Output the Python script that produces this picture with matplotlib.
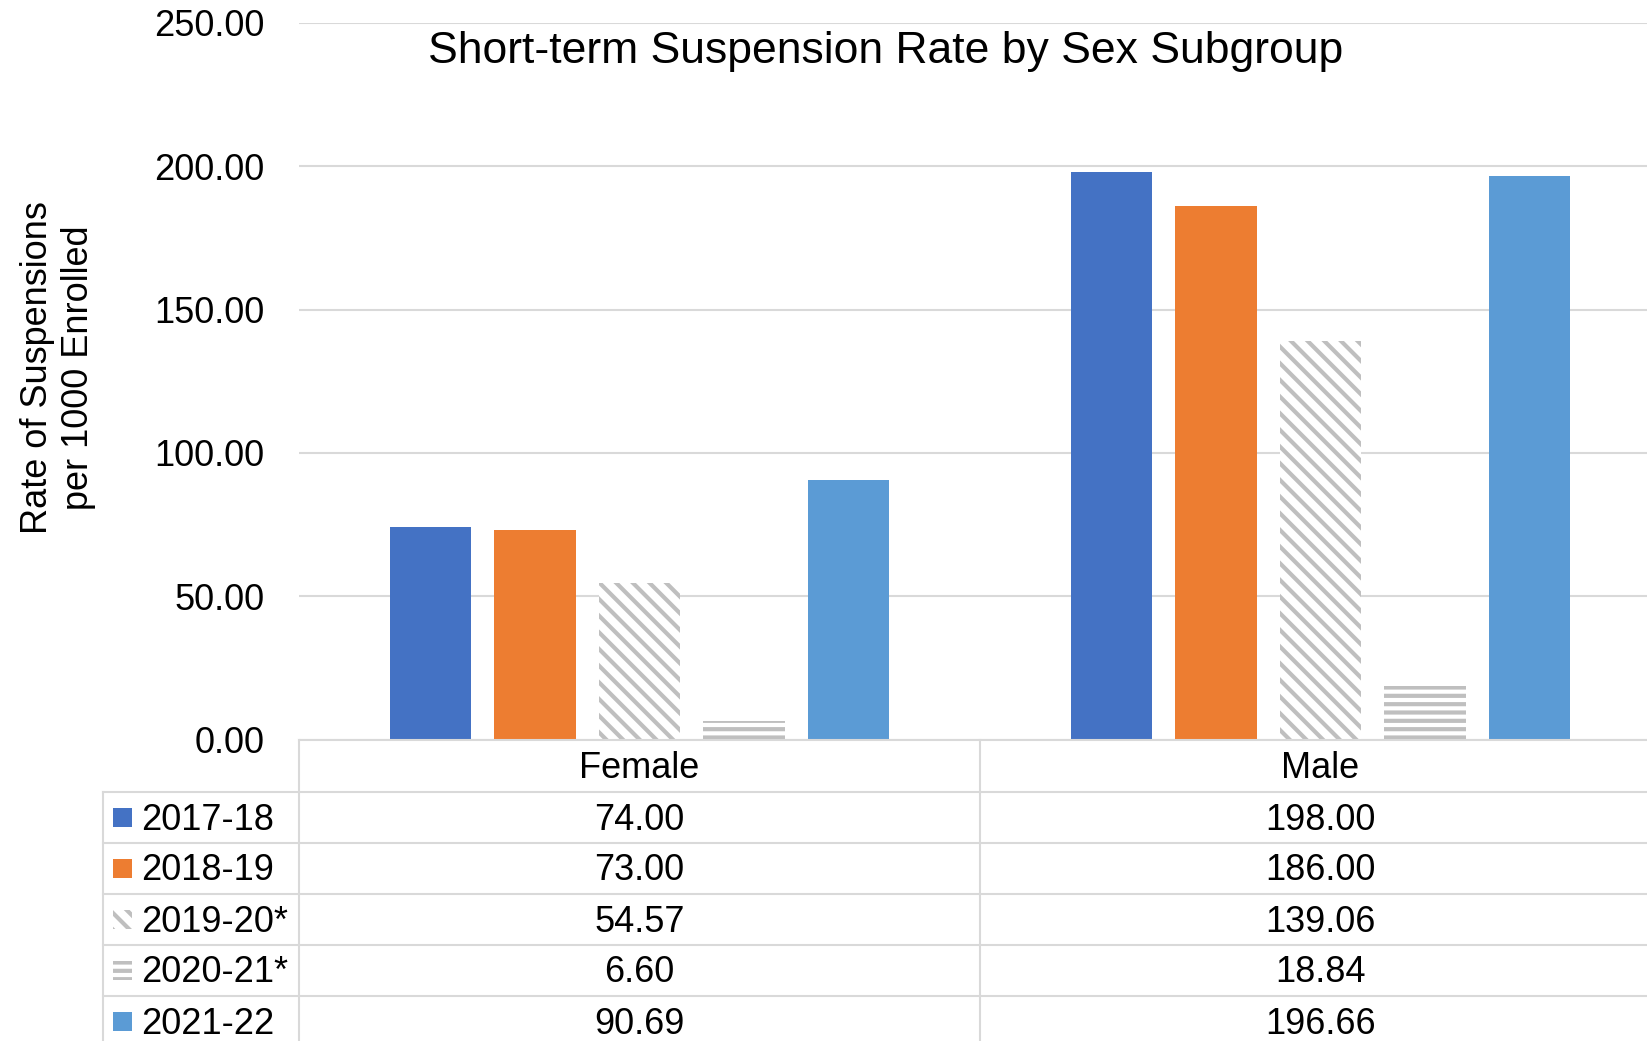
import numpy as np
import matplotlib
matplotlib.use("Agg")
import matplotlib.pyplot as plt
from matplotlib.patches import Rectangle
from matplotlib.transforms import blended_transform_factory

plt.rcParams['font.family'] = ['Liberation Sans', 'DejaVu Sans']
plt.rcParams['hatch.linewidth'] = 3.0

# data
categories = ['Female', 'Male']
years = ['2017-18', '2018-19', '2019-20*', '2020-21*', '2021-22']
female = [74.00, 73.00, 54.57, 6.60, 90.69]
male = [198.00, 186.00, 139.06, 18.84, 196.66]
yticks = [0, 50, 100, 150, 200, 250]

# styles
colors = ['#4472C4', '#ED7D31', 'white', 'white', '#5B9BD5']
hatches = [None, None, '\\\\', '--', None]
grey = '#BFBFBF'
linec = '#D9D9D9'

W, H = 1647, 1041
fig = plt.figure(figsize=(W / 100, H / 100), dpi=100)

# main axes in pixel terms (right side runs past the picture edge)
x0, x1 = 299, 1661
yb, yt = 739.5, 23
ax = fig.add_axes([x0 / W, 1 - yb / H, (x1 - x0) / W, (yb - yt) / H])

vals = np.array([female, male])
xs = np.arange(len(categories))
step = 0.1535
bw = 0.12
for i, yr in enumerate(years):
    off = (i - 2) * step
    if hatches[i]:
        ax.bar(xs + off, vals[:, i], bw, color='white', edgecolor=grey,
               linewidth=0, hatch=hatches[i], zorder=2)
    else:
        ax.bar(xs + off, vals[:, i], bw, color=colors[i], linewidth=0, zorder=2)

ax.set_xlim(-0.5, 1.5)
ax.set_ylim(0, 250)
ax.set_yticks(yticks)
ax.set_yticklabels([f'{v:.2f}' for v in yticks], fontsize=26)
ax.tick_params(axis='y', length=0, pad=25)
ax.set_xticks([])
ax.grid(axis='y', color=linec, linewidth=1.5, zorder=0)
for s in ax.spines.values():
    s.set_visible(False)

# overlay in pixel coords for table, title and label
ov = fig.add_axes([0, 0, 1, 1])
ov.set_xlim(0, W)
ov.set_ylim(H, 0)
ov.axis('off')
ov.patch.set_alpha(0)
bt = blended_transform_factory(ax.transData, ov.transData)

row_tops = [792, 842.5, 894, 944.5, 996]
lw = 1.5
# baseline / header top
ov.plot([-0.5, 1.5], [yb, yb], color=linec, lw=lw, transform=bt, clip_on=False)
for r in row_tops:
    ov.plot([103, x1], [r, r], color=linec, lw=lw, clip_on=False)
ov.plot([103, 103], [792, H], color=linec, lw=lw, clip_on=False)
for xv in [-0.5, 0.5, 1.5]:
    ov.plot([xv, xv], [yb, H], color=linec, lw=lw, transform=bt, clip_on=False)

# header
for i, c in enumerate(categories):
    ov.text(xs[i], 769, c, ha='center', va='center', fontsize=26, transform=bt)

# rows
for j, yr in enumerate(years):
    yc = row_tops[j] + 25.5
    if hatches[j]:
        ov.add_patch(Rectangle((113, yc - 9.5), 19, 19, facecolor='white',
                               edgecolor=grey, linewidth=0, hatch=hatches[j]))
    else:
        ov.add_patch(Rectangle((113, yc - 9.5), 19, 19, facecolor=colors[j],
                               linewidth=0))
    ov.text(141, yc + 3, yr, ha='left', va='center', fontsize=26)
    for i in range(len(categories)):
        ov.text(xs[i], yc + 3, f'{vals[i, j]:.2f}', ha='center', va='center',
                fontsize=26, transform=bt)

ov.text(886, 52, 'Short-term Suspension Rate by Sex Subgroup', ha='center',
        va='center', fontsize=32)
ov.text(58, 368, 'Rate of Suspensions\nper 1000 Enrolled', ha='center',
        va='center', rotation=90, fontsize=26, multialignment='center')

fig.savefig('out.png', dpi=100)
